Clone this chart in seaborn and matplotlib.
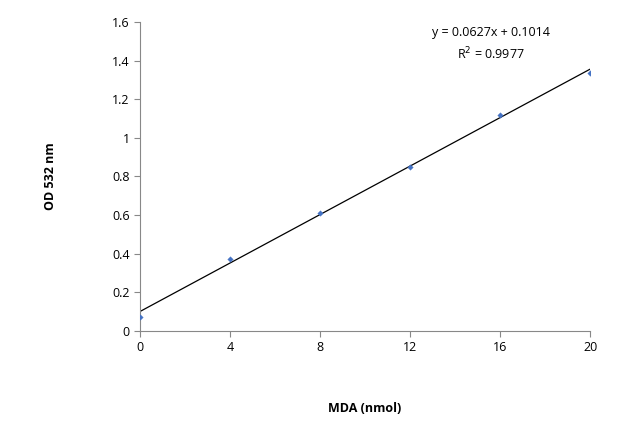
import numpy as np
import pandas as pd
import matplotlib
matplotlib.use("Agg")
import matplotlib.pyplot as plt
import seaborn as sns

mda_nmol = [0, 4, 8, 12, 16, 20]
od_532 = [0.07, 0.375, 0.61, 0.85, 1.12, 1.335]
slope = 0.0627
intercept = 0.1014
x_ticks = [0, 4, 8, 12, 16, 20]
y_ticks = [0, 0.2, 0.4, 0.6, 0.8, 1, 1.2, 1.4, 1.6]
y_tick_labels = ["0", "0.2", "0.4", "0.6", "0.8", "1", "1.2", "1.4", "1.6"]

sns.set_style("ticks")
plt.rcParams["font.family"] = "Open Sans"
plt.rcParams["text.color"] = "black"
plt.rcParams["axes.labelcolor"] = "black"
plt.rcParams["xtick.labelcolor"] = "black"
plt.rcParams["ytick.labelcolor"] = "black"

df = pd.DataFrame({"x": mda_nmol, "y": od_532})
fig = plt.figure(figsize=(6.4, 4.47), dpi=100)
ax = fig.add_axes([0.219, 0.2595, 0.703, 0.6915])

xs = np.array([min(mda_nmol), max(mda_nmol)])
ax.plot(xs, slope * xs + intercept, color="black", linewidth=0.9)
sns.scatterplot(data=df, x="x", y="y", marker="D", s=8, color="#4472C4",
                edgecolor="#4472C4", ax=ax, zorder=3)

ax.set_xlim(0, 20)
ax.set_ylim(0, 1.6)
ax.set_xticks(x_ticks)
ax.set_yticks(y_ticks)
ax.set_yticklabels(y_tick_labels)
ax.tick_params(labelsize=9, length=4, width=0.8, color="#888888")
for s in ["top", "right"]:
    ax.spines[s].set_visible(False)
for s in ["left", "bottom"]:
    ax.spines[s].set_color("#888888")
    ax.spines[s].set_linewidth(0.8)

ax.set_xlabel("MDA (nmol)", fontsize=9, fontweight="bold", labelpad=34)
ax.set_ylabel("OD 532 nm", fontsize=9, fontweight="bold", labelpad=40)

ax.text(0.78, 0.965, f"y = {slope}x + {intercept}", transform=ax.transAxes,
        ha="center", va="center", fontsize=9)
ax.text(0.78, 0.895, "R$^2$ = 0.9977", transform=ax.transAxes,
        ha="center", va="center", fontsize=9)

fig.savefig("out.png", dpi=100)
